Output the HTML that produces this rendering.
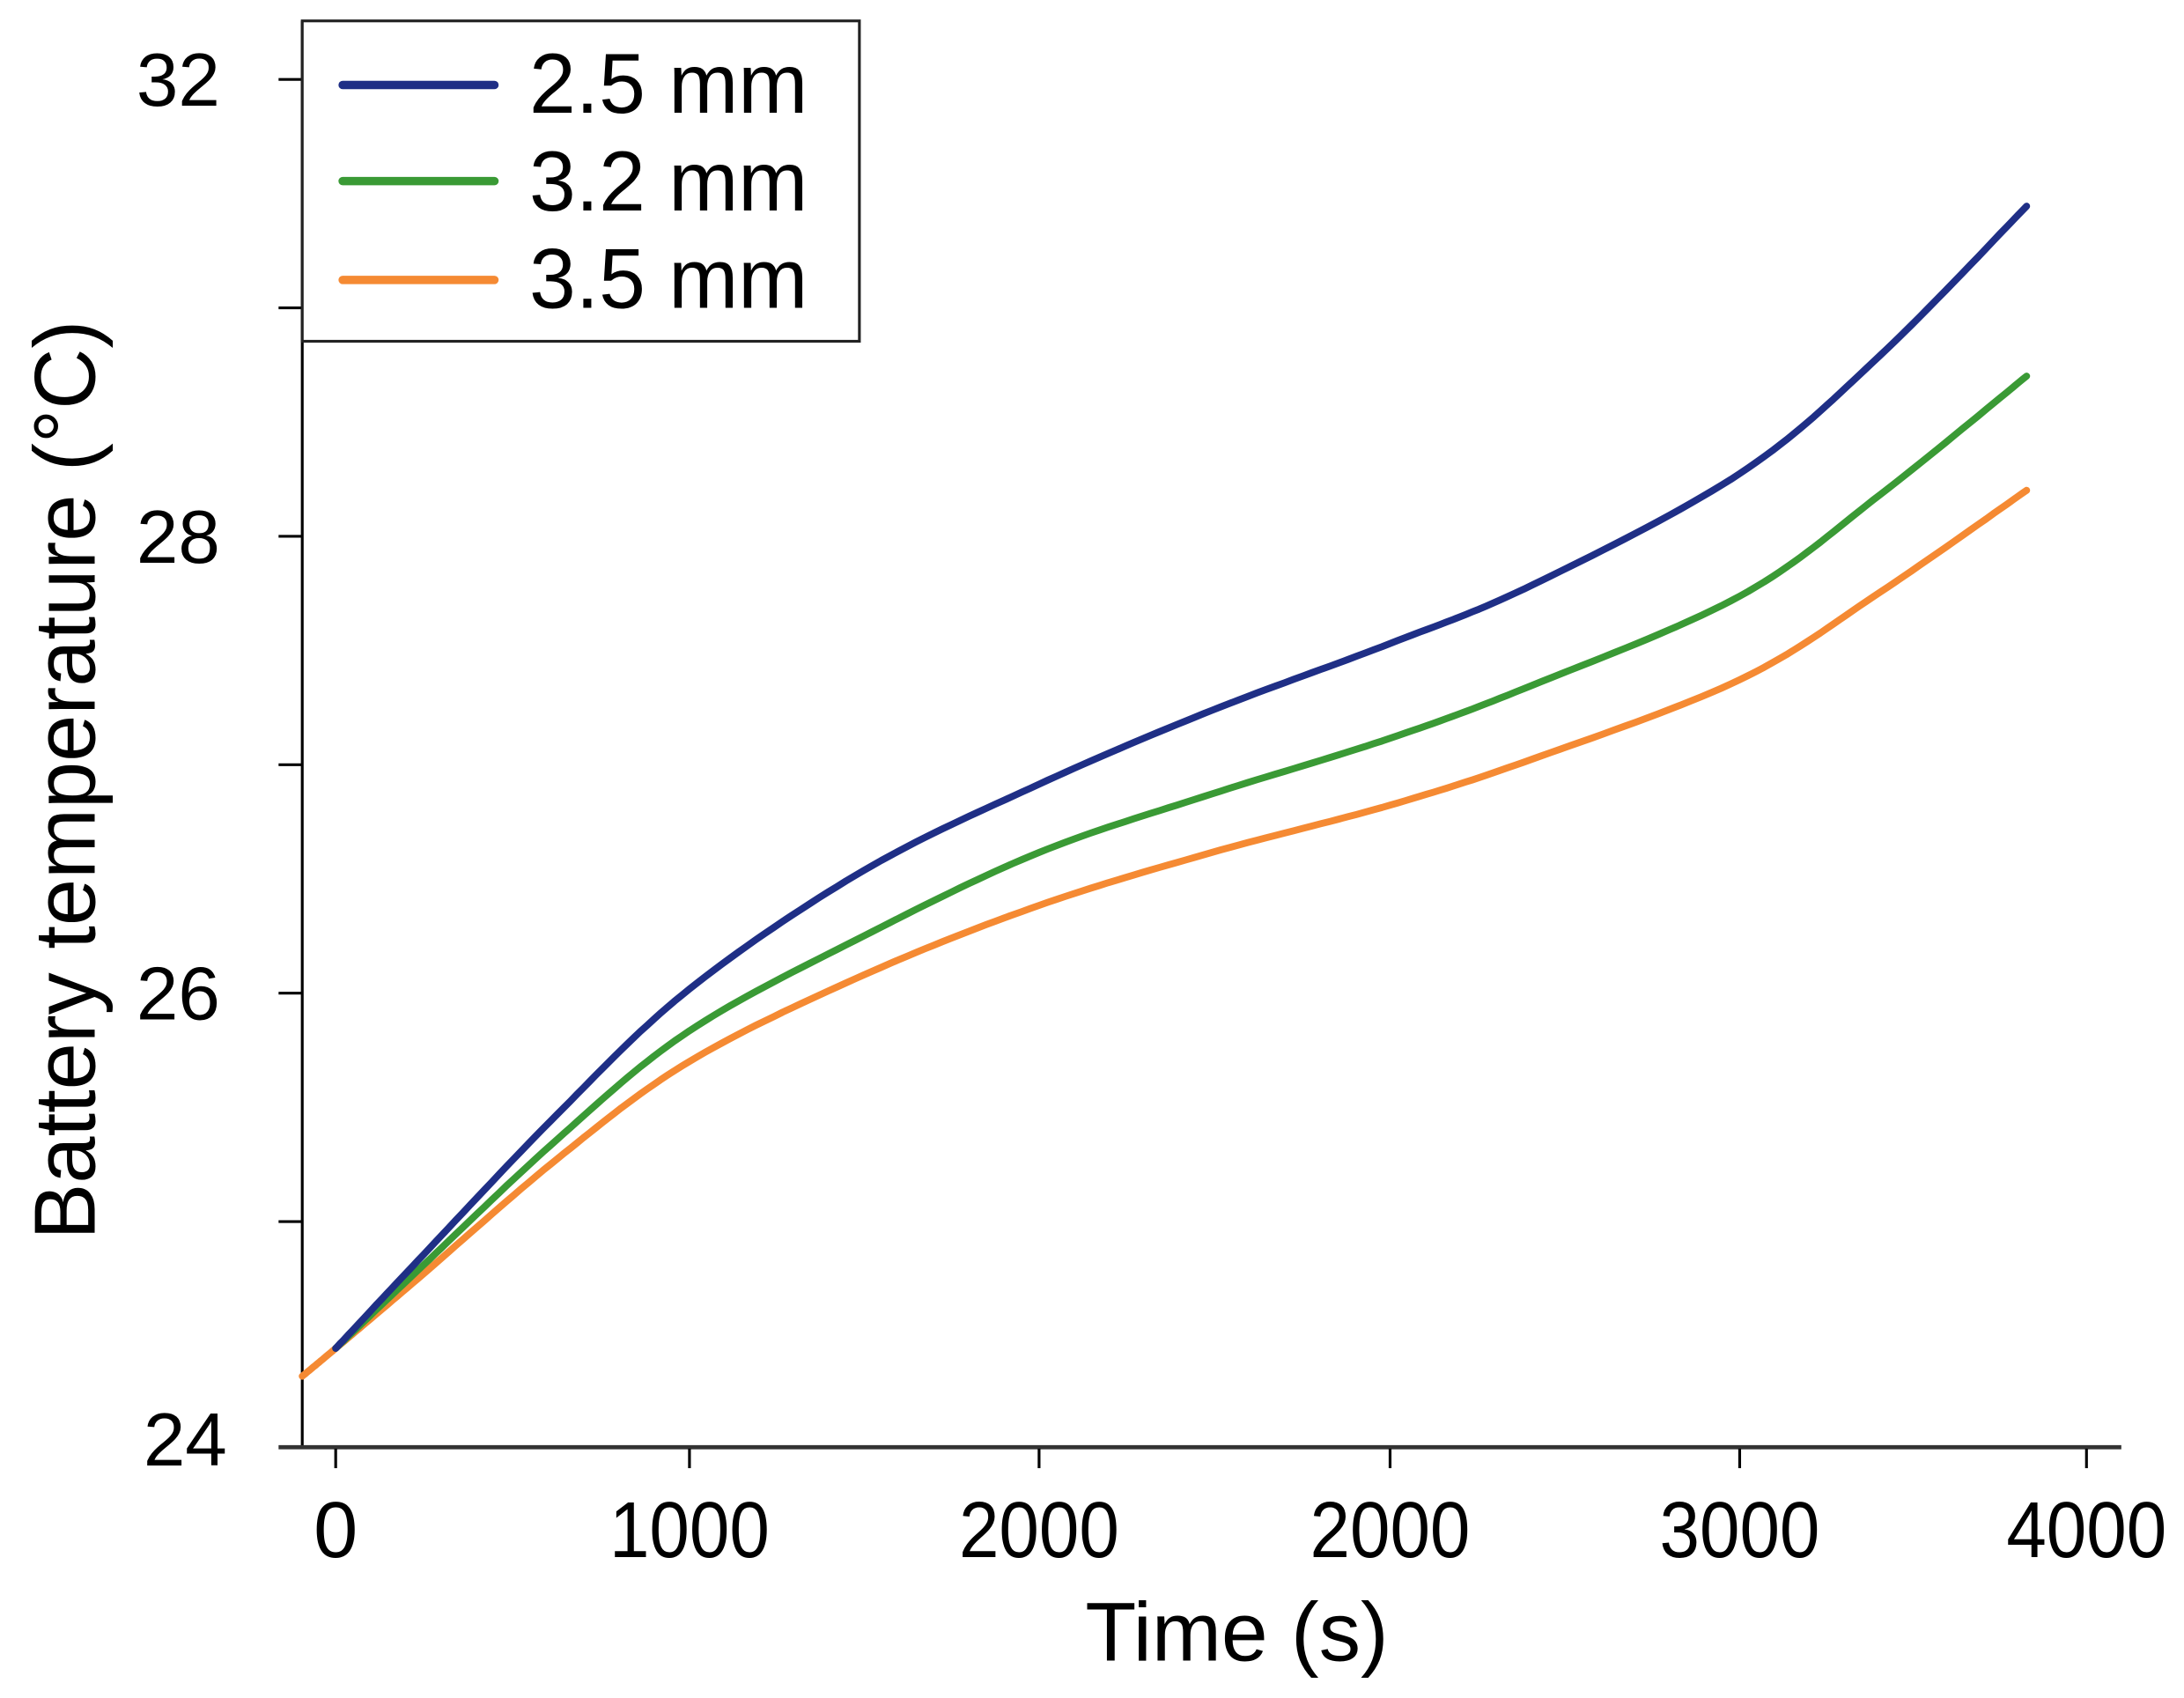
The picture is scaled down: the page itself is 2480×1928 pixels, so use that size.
<!DOCTYPE html>
<html><head><meta charset="utf-8"><style>html,body{margin:0;padding:0;background:#fff}svg{display:block}</style></head>
<body>
<svg width="2480" height="1928" viewBox="0 0 1568 1219" xmlns="http://www.w3.org/2000/svg" font-family="Liberation Sans, Arial, sans-serif">
<rect width="1568" height="1219" fill="#fff"/>
<line x1="217" y1="15" x2="217" y2="1039" stroke="#000" stroke-width="2"/>
<line x1="200" y1="1039" x2="1523" y2="1039" stroke="#333" stroke-width="3"/>
<g stroke="#000" stroke-width="2">
<line x1="200" y1="57" x2="217" y2="57"/><line x1="200" y1="221" x2="217" y2="221"/>
<line x1="200" y1="385" x2="217" y2="385"/><line x1="200" y1="549" x2="217" y2="549"/>
<line x1="200" y1="713" x2="217" y2="713"/><line x1="200" y1="877" x2="217" y2="877"/>
<line x1="241" y1="1040" x2="241" y2="1054"/><line x1="495" y1="1040" x2="495" y2="1054"/>
<line x1="746" y1="1040" x2="746" y2="1054"/><line x1="998" y1="1040" x2="998" y2="1054"/>
<line x1="1249" y1="1040" x2="1249" y2="1054"/><line x1="1498" y1="1040" x2="1498" y2="1054"/>
</g>
<g font-size="54" text-anchor="end" fill="#000">
<text x="158" y="76">32</text><text x="158" y="404">28</text><text x="158" y="732">26</text><text x="163" y="1052">24</text>
</g>
<g font-size="57" text-anchor="middle" fill="#000">
<text x="241" y="1118">0</text><text x="495" y="1118" textLength="115" lengthAdjust="spacingAndGlyphs">1000</text><text x="746" y="1118" textLength="115" lengthAdjust="spacingAndGlyphs">2000</text>
<text x="998" y="1118" textLength="115" lengthAdjust="spacingAndGlyphs">2000</text><text x="1249" y="1118" textLength="115" lengthAdjust="spacingAndGlyphs">3000</text><text x="1498" y="1118" textLength="115" lengthAdjust="spacingAndGlyphs">4000</text>
</g>
<text x="888" y="1192" font-size="60" text-anchor="middle">Time (s)</text>
<text transform="translate(68,560) rotate(-90)" font-size="62" text-anchor="middle" textLength="660" lengthAdjust="spacingAndGlyphs">Battery temperature (°C)</text>
<g fill="none" stroke-width="5" stroke-linejoin="round" stroke-linecap="round">
<polyline class="c" stroke="#f58a33" points="217,988 241,968 300,918 400,832 495,762 620,700 746,650 870,612 998,578 1100,545 1249,488 1350,425 1455,352"/>
<polyline class="c" stroke="#3a9a35" points="241,968 300,912 400,818 495,740 620,672 746,612 870,570 998,530 1100,492 1249,428 1350,355 1455,270"/>
<polyline class="c" stroke="#1f2f86" points="241,968 300,905 400,800 495,710 620,625 746,563 870,510 998,462 1100,420 1249,340 1350,255 1455,148"/>
</g>
<rect x="217" y="15" width="400" height="230" fill="#fff" stroke="#222" stroke-width="2"/>
<g stroke-width="6" stroke-linecap="round">
<line x1="246" y1="61" x2="355" y2="61" stroke="#1f2f86"/>
<line x1="246" y1="130" x2="355" y2="130" stroke="#3a9a35"/>
<line x1="246" y1="201" x2="355" y2="201" stroke="#f58a33"/>
</g>
<g font-size="61" fill="#000">
<text x="380" y="81" textLength="200" lengthAdjust="spacingAndGlyphs">2.5 mm</text>
<text x="380" y="151" textLength="200" lengthAdjust="spacingAndGlyphs">3.2 mm</text>
<text x="380" y="221" textLength="200" lengthAdjust="spacingAndGlyphs">3.5 mm</text>
</g>
</svg>
<script>
document.querySelectorAll('polyline.c').forEach(function(pl){
  var p=pl.getAttribute('points').trim().split(/\s+/).map(function(s){return s.split(',').map(Number);});
  var out=[];
  for(var i=0;i<p.length-1;i++){
    var p0=p[Math.max(0,i-1)],p1=p[i],p2=p[i+1],p3=p[Math.min(p.length-1,i+2)];
    for(var k=0;k<20;k++){
      var t=k/20,t2=t*t,t3=t2*t;
      var f=function(a,b,c,d){return 0.5*((2*b)+(-a+c)*t+(2*a-5*b+4*c-d)*t2+(-a+3*b-3*c+d)*t3);};
      out.push(f(p0[0],p1[0],p2[0],p3[0]).toFixed(1)+','+f(p0[1],p1[1],p2[1],p3[1]).toFixed(1));
    }
  }
  out.push(p[p.length-1].join(','));
  pl.setAttribute('points',out.join(' '));
});
</script>
</body></html>
